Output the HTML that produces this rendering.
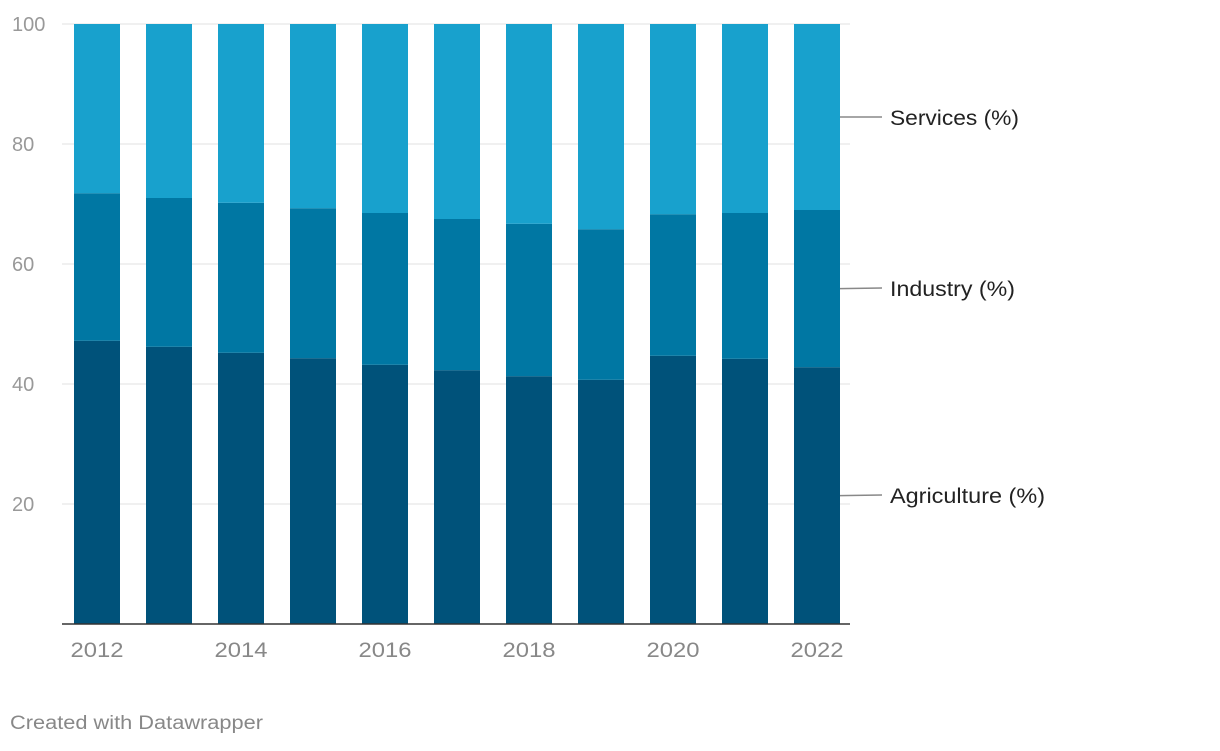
<!DOCTYPE html>
<html><head><meta charset="utf-8"><style>
body{margin:0;background:#fff;width:1220px;height:746px;overflow:hidden;font-family:"Liberation Sans",sans-serif}
</style></head><body>
<svg id="chart" width="1220" height="746" xmlns="http://www.w3.org/2000/svg"></svg>
<script>
const years=[2012,2013,2014,2015,2016,2017,2018,2019,2020,2021,2022];
const agriculture=[47.2,46.2,45.2,44.3,43.2,42.3,41.3,40.7,44.7,44.2,42.8];
const industry=[24.6,24.8,25.0,25.0,25.3,25.2,25.4,25.1,23.6,24.3,26.2];
const services=[28.2,29.0,29.8,30.7,31.5,32.5,33.3,34.2,31.7,31.5,31.0];
const yTicks=[20,40,60,80,100];
const xTickLabels=["2012","2014","2016","2018","2020","2022"];
const seriesNames=["Agriculture (%)","Industry (%)","Services (%)"];
const NS="http://www.w3.org/2000/svg";
const svg=document.getElementById('chart');
const y=v=>624-v*6;
const xc=i=>97+i*72;
function mk(t,a,p){const e=document.createElementNS(NS,t);for(const k in a)e.setAttribute(k,a[k]);(p||svg).appendChild(e);return e;}
yTicks.forEach(v=>{
 const l=mk('line',{x1:62,x2:850,y1:y(v),y2:y(v),stroke:'#e0e0e0','stroke-width':1});
 
 
 const t=mk('text',{x:12,y:y(v)+7,'font-size':20,fill:'#999'});t.textContent=v;
 
 
});
const colors=['#00527a','#0077a3','#18a1cd'];
years.forEach((yr,i)=>{
 const vals=[agriculture[i],industry[i],services[i]];let base=0;
 vals.forEach((v,s)=>{
  const r=mk('rect',{x:xc(i)-23,width:46,y:y(base+v),height:v*6,fill:colors[s]});
  
  
  base+=v;
 });
});
const bl=mk('line',{x1:62,x2:850,y1:624,y2:624,stroke:'#333','stroke-width':1.5});


xTickLabels.forEach(lab=>{
 const i=years.indexOf(+lab);
 const t=mk('text',{x:xc(i),y:657,'font-size':21,fill:'#888','text-anchor':'middle',textLength:53,lengthAdjust:'spacingAndGlyphs'});t.textContent=lab;
 
 
});
const last=years.length-1;
const mids=[agriculture[last]/2,agriculture[last]+industry[last]/2,agriculture[last]+industry[last]+services[last]/2];
const ly=[495,288,117];
const lw=[155,125,129];
seriesNames.forEach((n,s)=>{
 const p=mk('polyline',{points:`840,${y(mids[s])} 882,${ly[s]}`,fill:'none',stroke:'#888','stroke-width':1.5});
 
 
 const t=mk('text',{x:890,y:ly[s]+8,'font-size':21,fill:'#222',textLength:lw[s],lengthAdjust:'spacingAndGlyphs'});t.textContent=n;
 
 
});
const c=mk('text',{x:10,y:729,'font-size':19,fill:'#888',textLength:253,lengthAdjust:'spacingAndGlyphs'});c.textContent='Created with Datawrapper';


</script>
</body></html>
